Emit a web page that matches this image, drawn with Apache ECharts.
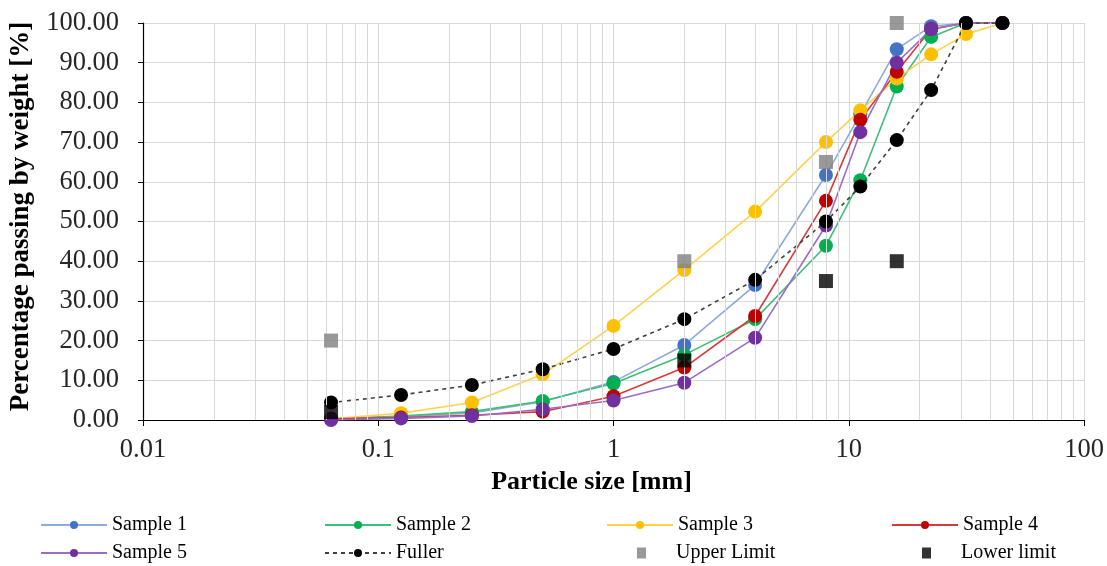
<!DOCTYPE html>
<html>
<head>
<meta charset="utf-8">
<script src="https://cdn.jsdelivr.net/npm/echarts@6/dist/echarts.min.js"></script>
<style>
  html, body { margin: 0; padding: 0; background: #fff; }
  #myChart { width: 1107px; height: 566px; }
</style>
</head>
<body>
<div id="myChart"></div>
<script>
// sieve sizes [mm]
var sizes = [0.063, 0.125, 0.25, 0.5, 1, 2, 4, 8, 11.2, 16, 22.4, 31.5, 45];

// percentage passing [%]
var sample1 = [0.3, 0.8, 1.8, 4.6, 9.6, 18.9, 34.0, 61.7, 77.0, 93.4, 99.2, 100, 100];
var sample2 = [0.3, 1.0, 2.1, 4.8, 9.2, 16.4, 25.4, 43.9, 60.4, 84.0, 96.5, 100, 100];
var sample3 = [0.3, 1.7, 4.4, 11.5, 23.7, 37.8, 52.5, 70.0, 78.0, 86.0, 92.1, 97.2, 100];
var sample4 = [0.3, 0.6, 1.2, 2.1, 6.0, 13.2, 26.2, 55.2, 75.6, 87.7, 98.5, 100, 100];
var sample5 = [0.0, 0.4, 1.0, 2.7, 4.9, 9.4, 20.7, 49.0, 72.5, 90.0, 98.4, 100, 100];
var fuller = [4.4, 6.3, 8.8, 12.8, 17.9, 25.4, 35.3, 50.0, 58.8, 70.5, 83.1, 100, 100];

// limit curves
var limitSizes = [0.063, 2, 8, 16];
var upperLimit = [20, 40, 65, 100];
var lowerLimit = [2, 15, 35, 40];

var yTicks = [0, 10, 20, 30, 40, 50, 60, 70, 80, 90, 100];

function pairs(xs, ys) {
  return xs.map(function (x, i) { return [x, ys[i]]; });
}

// minor vertical gridlines of the log axis (2..9 in each decade)
var minorLines = [];
[0.01, 0.1, 1, 10].forEach(function (d) {
  for (var k = 2; k <= 9; k++) minorLines.push({ xAxis: +(d * k).toPrecision(3) });
});

var font = '"Liberation Serif", "Times New Roman", serif';

function sampleSeries(name, ys, lineColor, markColor) {
  return {
    name: name,
    type: 'line',
    data: pairs(sizes, ys),
    symbol: 'circle',
    symbolSize: 14,
    lineStyle: { color: lineColor, width: 1.6 },
    itemStyle: { color: markColor },
    z: 3
  };
}

var series = [
  {
    name: 'grid',
    type: 'line',
    data: [],
    silent: true,
    z: 1,
    markLine: {
      silent: true,
      symbol: 'none',
      label: { show: false },
      lineStyle: { color: '#d9d9d9', type: 'solid', width: 1 },
      data: minorLines
    }
  },
  sampleSeries('Sample 1', sample1, '#8eaadb', '#4472c4'),
  sampleSeries('Sample 2', sample2, '#3cbf78', '#00b050'),
  sampleSeries('Sample 3', sample3, '#ffd24d', '#ffc000'),
  sampleSeries('Sample 4', sample4, '#d83a3a', '#c00000'),
  sampleSeries('Sample 5', sample5, '#9a6cc8', '#7030a0'),
  {
    name: 'Fuller',
    type: 'line',
    data: pairs(sizes, fuller),
    symbol: 'circle',
    symbolSize: 14,
    lineStyle: { color: '#404040', width: 1.6, type: [4, 4] },
    itemStyle: { color: '#000' },
    z: 4
  },
  {
    name: 'Upper Limit',
    type: 'scatter',
    data: pairs(limitSizes, upperLimit),
    symbol: 'rect',
    symbolSize: 14,
    itemStyle: { color: '#808080' },
    z: 5
  },
  {
    name: 'Lower limit',
    type: 'scatter',
    data: pairs(limitSizes, lowerLimit),
    symbol: 'rect',
    symbolSize: 14,
    itemStyle: { color: '#000' },
    z: 5
  }
];

// legend: one block per entry, 4 columns x 2 rows
var legendCols = [35, 319, 601, 886];
var legendRows = [510, 538];
var legendNames = ['Sample 1', 'Sample 2', 'Sample 3', 'Sample 4', 'Sample 5', 'Fuller', 'Upper Limit', 'Lower limit'];
var legend = legendNames.map(function (name, i) {
  var isScatter = name.indexOf('imit') > 0;
  return {
    data: [name],
    left: isScatter ? legendCols[i % 4] + 31 : legendCols[i % 4],
    top: legendRows[Math.floor(i / 4)],
    itemWidth: isScatter ? 9 : 66,
    itemHeight: isScatter ? 11 : 10,
    selectedMode: false,
    textStyle: {
      fontFamily: font,
      fontSize: 20,
      color: '#000',
      padding: isScatter ? [0, 0, 0, 25] : 0
    }
  };
});

var myChart = echarts.init(document.getElementById('myChart'));
var option = {
  animation: false,
  backgroundColor: '#fff',
  legend: legend,
  grid: { left: 143, right: 23, top: 23, bottom: 146, containLabel: false },
  xAxis: {
    type: 'log',
    logBase: 10,
    min: 0.01,
    max: 100,
    name: 'Particle size [mm]',
    nameLocation: 'middle',
    nameGap: 46,
    nameTextStyle: { fontFamily: font, fontSize: 26, fontWeight: 'bold', color: '#000', padding: [0, 44, 0, 0] },
    axisLine: { lineStyle: { color: '#000', width: 1.2 } },
    axisTick: { show: true, length: 6, lineStyle: { color: '#000' } },
    axisLabel: {
      fontFamily: font, fontSize: 26.5, color: '#262626', margin: 17,
      formatter: function (v) { return String(+(+v).toPrecision(3)); }
    },
    splitLine: { show: true, lineStyle: { color: '#d9d9d9', width: 1 } }
  },
  yAxis: {
    type: 'value',
    min: yTicks[0],
    max: yTicks[yTicks.length - 1],
    interval: 10,
    name: 'Percentage passing by weight [%]',
    nameLocation: 'middle',
    nameGap: 108,
    nameTextStyle: { fontFamily: font, fontSize: 27, fontWeight: 'bold', color: '#000', padding: [0, 0, 0, 10] },
    axisLine: { show: true, lineStyle: { color: '#000', width: 1.2 } },
    axisTick: { show: true, length: 5, lineStyle: { color: '#000' } },
    axisLabel: {
      fontFamily: font, fontSize: 26.5, color: '#262626', margin: 24,
      formatter: function (v) { return v.toFixed(2); }
    },
    splitLine: { show: true, lineStyle: { color: '#d9d9d9', width: 1 } }
  },
  series: series
};
myChart.setOption(option);
</script>
</body>
</html>
